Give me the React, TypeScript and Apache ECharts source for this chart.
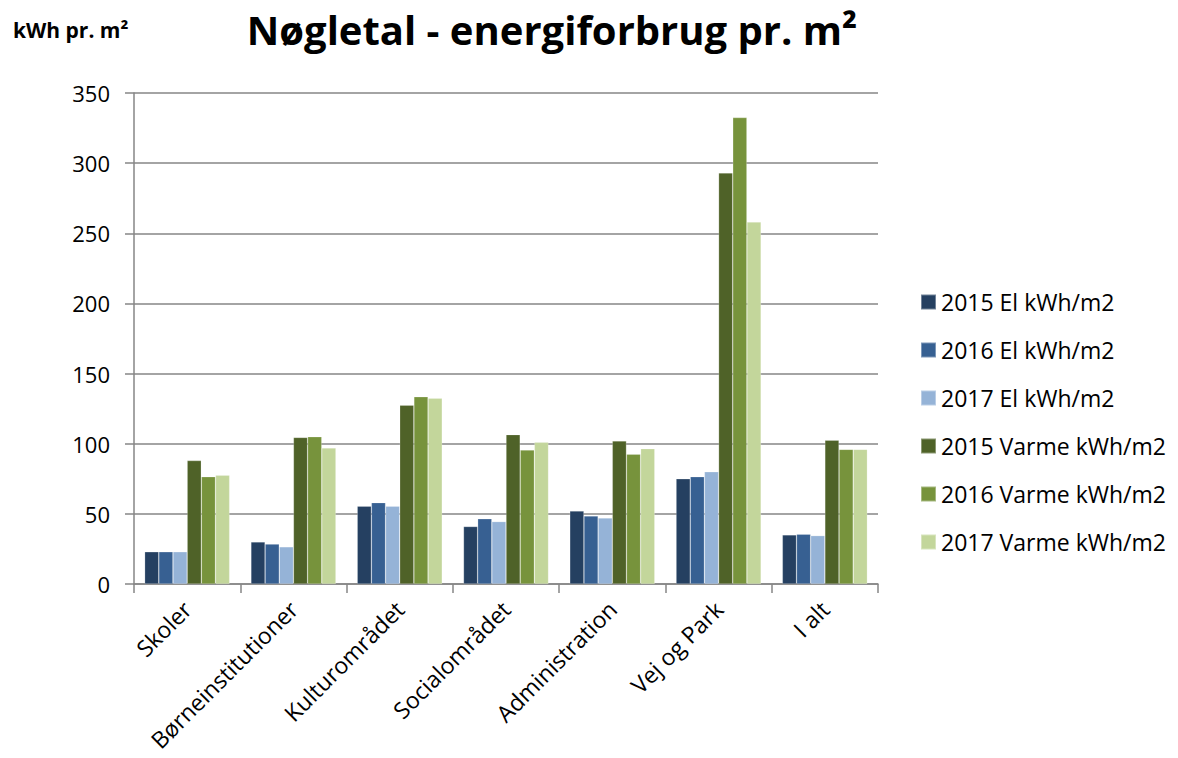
import React, { useEffect, useRef } from "react";
import * as echarts from "echarts";

const categories = ["Skoler", "Børneinstitutioner", "Kulturområdet", "Socialområdet", "Administration", "Vej og Park", "I alt"];
const seriesNames = ["2015 El kWh/m2", "2016 El kWh/m2", "2017 El kWh/m2", "2015 Varme kWh/m2", "2016 Varme kWh/m2", "2017 Varme kWh/m2"];
const el2015 = [23, 30, 55.5, 41, 52, 75, 35];
const el2016 = [23, 28.5, 58, 46.5, 48.5, 76.5, 35.5];
const el2017 = [23, 26.5, 55.5, 44.5, 47, 80, 34.5];
const varme2015 = [88, 104.5, 127.5, 106.5, 102, 293, 102.5];
const varme2016 = [76.5, 105, 133.5, 95.5, 92.5, 332.5, 96];
const varme2017 = [77.5, 97, 132.5, 101, 96.5, 258, 96];
const yTicks = [0, 50, 100, 150, 200, 250, 300, 350];
const colors = ["#254061", "#376092", "#95B3D7", "#4F6228", "#77933C", "#C3D69B"];

export default function App() {
  const ref = useRef<HTMLDivElement>(null);
  useEffect(() => {
    if (!ref.current) return;
    const chart = echarts.init(ref.current, null, { renderer: "svg" });
    const values = [el2015, el2016, el2017, varme2015, varme2016, varme2017];
    const font = "'Open Sans', 'Noto Sans', sans-serif";
    chart.setOption({
      animation: false,
      backgroundColor: "#ffffff",
      textStyle: { fontFamily: font },
      title: [
        {
          text: "Nøgletal - energiforbrug pr. m²",
          left: 547,
          textAlign: "center",
          top: 4,
          textStyle: { fontFamily: font, fontWeight: "bold", fontSize: 40, color: "#000" },
        },
        {
          text: "kWh pr. m²",
          left: 8,
          top: 14,
          textStyle: { fontFamily: font, fontWeight: "bold", fontSize: 21, color: "#000" },
        },
      ],
      legend: {
        orient: "vertical",
        left: 920,
        top: 290,
        padding: 0,
        itemWidth: 15,
        itemHeight: 15,
        itemGap: 24,
        icon: "rect",
        data: seriesNames,
        textStyle: { fontFamily: font, fontSize: 23, color: "#000", lineHeight: 24 },
      },
      grid: { left: 134, right: 300, top: 93, bottom: 174, containLabel: false },
      xAxis: {
        type: "category",
        data: categories,
        axisLine: { lineStyle: { color: "#868686", width: 1.5 } },
        axisTick: { show: true, alignWithLabel: false, length: 9, lineStyle: { color: "#868686", width: 1.5 } },
        axisLabel: { rotate: 45, fontSize: 23, color: "#000", margin: 21, interval: 0, fontFamily: font },
      },
      yAxis: {
        type: "value",
        min: 0,
        max: 350,
        interval: 50,
        axisLine: { show: true, lineStyle: { color: "#868686", width: 1.5 } },
        axisTick: { show: true, length: 9, lineStyle: { color: "#868686", width: 1.5 } },
        splitLine: { lineStyle: { color: "#868686", width: 1.5 } },
        axisLabel: {
          fontSize: 22,
          color: "#000",
          margin: 24,
          fontFamily: font,
          formatter: (v: number) => (yTicks.includes(v) ? String(v) : ""),
        },
      },
      series: seriesNames.map((name, i) => ({
        name,
        type: "bar",
        data: values[i],
        barGap: "0%",
        barCategoryGap: "20%",
        itemStyle: { color: colors[i], borderColor: "rgba(255,255,255,0.35)", borderWidth: 0.6 },
      })),
    });
    return () => chart.dispose();
  }, []);
  return <div ref={ref} style={{ position: "fixed", left: 0, top: 0, width: 1178, height: 758 }} />;
}
